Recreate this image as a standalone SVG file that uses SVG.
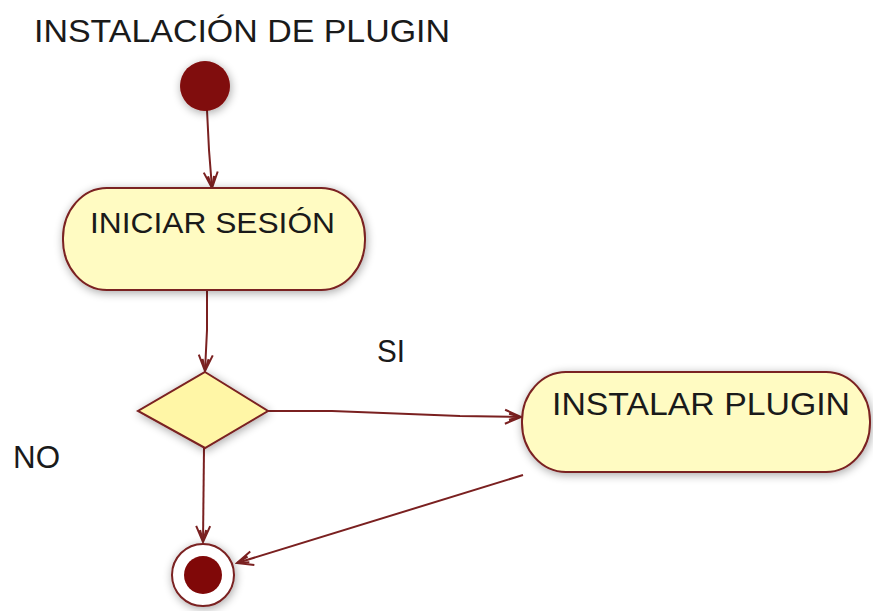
<svg xmlns="http://www.w3.org/2000/svg" width="873" height="611" viewBox="0 0 873 611">
<defs>
<style>
text{font-family:"Liberation Sans",Arial,sans-serif;fill:#1a1a1a;}
.node{fill:#fffbc2;stroke:#7a2020;stroke-width:2;filter:url(#sh);}
.dia{fill:#fff6a6;stroke:#7a2020;stroke-width:2;filter:url(#sh);}
.edge{fill:none;stroke:#7a2020;stroke-width:2;}
.dot{fill:#800808;}
</style>
<filter id="sh" x="-20%" y="-30%" width="140%" height="160%">
<feGaussianBlur in="SourceAlpha" stdDeviation="5"/>
<feOffset dx="1" dy="2" result="b"/>
<feComponentTransfer><feFuncA type="linear" slope="0.35"/></feComponentTransfer>
<feMerge><feMergeNode/><feMergeNode in="SourceGraphic"/></feMerge>
</filter>
<marker id="arr" viewBox="0 0 20 20" refX="18" refY="10" markerWidth="20" markerHeight="20" markerUnits="userSpaceOnUse" orient="auto">
<path d="M2,3 L18,10 L2,17 M6,7 L18,10 L6,13" fill="none" stroke="#7a2020" stroke-width="2"/>
</marker>
</defs>
<rect width="873" height="611" fill="#ffffff"/>
<text x="34" y="42" font-size="32" textLength="416" lengthAdjust="spacingAndGlyphs">INSTALACIÓN DE PLUGIN</text>
<g id="edges">
<path class="edge" d="M207,110 L209,150 L212,188" marker-end="url(#arr)"/>
<path class="edge" d="M207,290 L207,330 L205,371" marker-end="url(#arr)"/>
<path class="edge" d="M268,411 L332,411 L460,416 L521,417" marker-end="url(#arr)"/>
<path class="edge" d="M204,448 L203,542" marker-end="url(#arr)"/>
<path class="edge" d="M523,475 L237,563" marker-end="url(#arr)"/>
</g>
<g id="start">
<circle class="dot" cx="205" cy="86" r="25" style="filter:url(#sh)"/>
</g>
<g id="iniciar">
<rect class="node" x="63" y="188" width="302" height="102" rx="44" ry="50"/>
<text x="90" y="233" font-size="30" textLength="245" lengthAdjust="spacingAndGlyphs">INICIAR SESIÓN</text>
</g>
<g id="decision">
<polygon class="dia" points="205,372 268,411 205,448 138,411"/>
</g>
<text x="377" y="362" font-size="32" textLength="28" lengthAdjust="spacingAndGlyphs">SI</text>
<text x="13" y="468" font-size="32" textLength="47" lengthAdjust="spacingAndGlyphs">NO</text>
<g id="instalar">
<rect class="node" x="522" y="372" width="348" height="100" rx="44" ry="49"/>
<text x="552" y="415" font-size="31" textLength="298" lengthAdjust="spacingAndGlyphs">INSTALAR PLUGIN</text>
</g>
<g id="end">
<circle cx="203" cy="575" r="31" fill="#ffffff" stroke="#7a2020" stroke-width="2" style="filter:url(#sh)"/>
<circle class="dot" cx="203" cy="575" r="19"/>
</g>
</svg>
